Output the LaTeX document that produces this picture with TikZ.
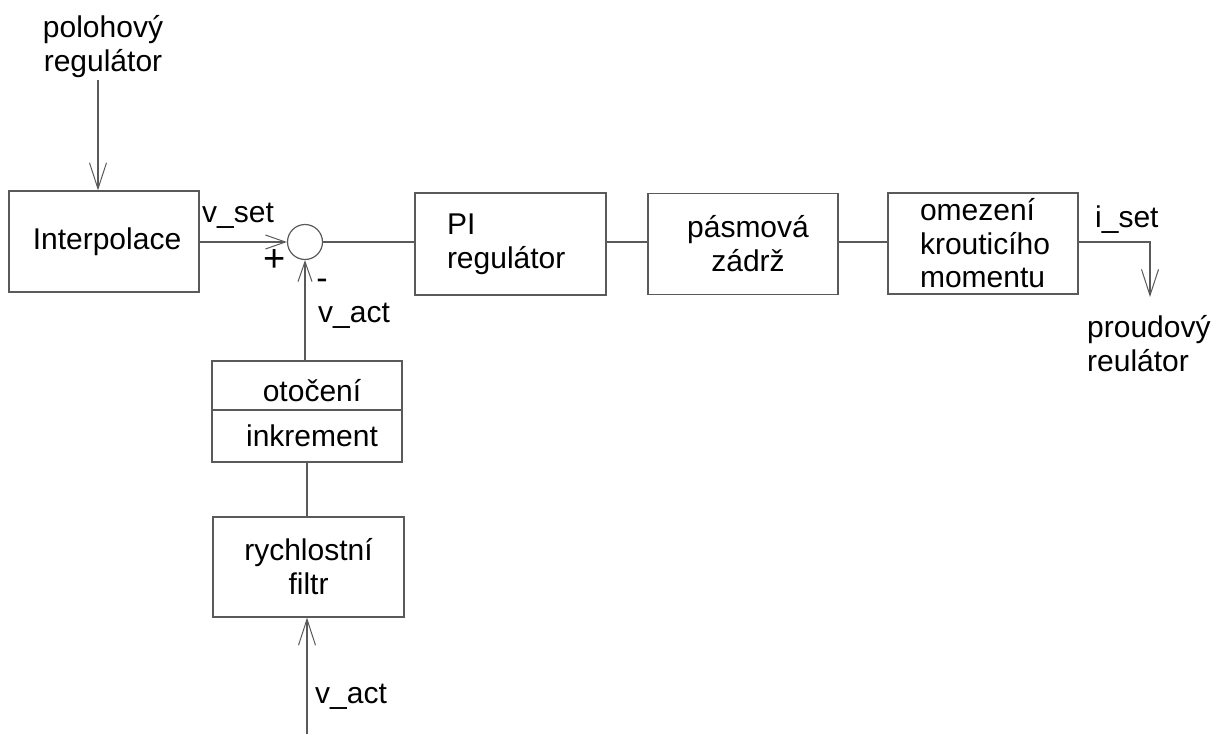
\documentclass[tikz,border=0pt]{standalone}
\usepackage{fontspec}
\setmainfont{Liberation Sans}
\usetikzlibrary{arrows.meta}
\definecolor{ln}{HTML}{5A5A5A}
\begin{document}
\begin{tikzpicture}[x=1pt,y=-1pt,
 every node/.style={font=\fontsize{30}{34}\selectfont, text=black},
 box/.style={draw=ln, line width=1.2pt, inner sep=0pt, minimum width=190pt, minimum height=101pt, align=center},
 wire/.style={draw=ln, line width=1.2pt},
 arr/.style={wire, -{Straight Barb[length=26pt,width=17pt,line width=1pt]}},
 sarr/.style={wire, -{Straight Barb[length=20pt,width=14pt,line width=1pt]}},
 lbl/.style={inner sep=0pt}]
\useasboundingbox (0,0) rectangle (1223,734);
\fill[white] (0,0) rectangle (1223,734);
% blocks
\node[box] (interp) at (104,241.5) {\hspace*{6pt}Interpolace};
\node[circle, draw=ln, line width=1.2pt, minimum size=35pt, inner sep=0pt] (sum) at (305,242) {};
\node[box, minimum width=191pt, minimum height=102pt, text width=127pt, align=left] (pi) at (510.5,244) {PI\\regulátor};
\node[box] (pz) at (743,244) {\hspace*{10pt}pásmová\\\hspace*{10pt}zádrž};
\node[box, text width=126pt, align=left, font=\fontsize{30}{33.5}\selectfont] (om) at (983,243.5) {omezení\\krouticího\\momentu};
\node[box, minimum height=49pt, text height=32pt, text depth=0pt] (otoc) at (307,385.5) {\hspace*{10pt}otočení};
\node[box, minimum height=52pt] (inkr) at (307,436) {\hspace*{10pt}inkrement};
\node[box, minimum width=191pt, minimum height=100pt] (rf) at (308.5,567) {rychlostní\\filtr};
% labels
\node[lbl, anchor=north, align=center] (polo) at (103,15) {polohový\\regulátor};
\node[lbl, anchor=base west] (vset) at (202,222) {v\_set};
\node[lbl, font=\fontsize{38}{40}\selectfont] (plus) at (275,261) {+};
\node[lbl, font=\fontsize{34}{36}\selectfont] (minus) at (322,284) {-};
\node[lbl, anchor=base west] (vact1) at (318,322) {v\_act};
\node[lbl, anchor=base west] (vact2) at (315,703) {v\_act};
\node[lbl, anchor=base west] (iset) at (1095,227) {i\_set};
\node[lbl, anchor=north west, align=left] (proud) at (1087,315) {proudový\\reulátor};
% connectors
\coordinate (ptop) at (98,80);
\draw[arr] (ptop) -- (ptop |- interp.north);
\draw[sarr] (interp.east |- sum) -- (sum.west);
\draw[wire] (sum.east) -- (sum -| pi.west);
\draw[wire] (pi.east |- 0,242) -- (pz.west |- 0,242);
\draw[wire] (pz.east |- 0,242) -- (om.west |- 0,242);
\coordinate (icorner) at (1150,242);
\coordinate (iend) at (1150,297);
\draw[arr] (om.east |- icorner) -- (icorner) -- (iend);
\draw[sarr] (otoc.north -| sum) -- (sum.south);
\draw[wire] (inkr.south) -- (inkr.south |- rf.north);
\coordinate (vin) at (307,734);
\draw[arr] (vin) -- (vin |- rf.south);
\end{tikzpicture}
\end{document}
